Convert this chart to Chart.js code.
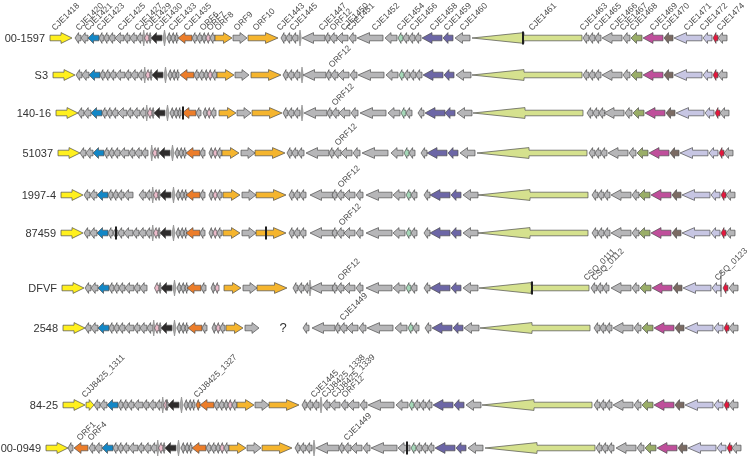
<!DOCTYPE html>
<html><head><meta charset="utf-8">
<script src="https://cdn.jsdelivr.net/npm/chart.js@4.4.1/dist/chart.umd.min.js"></script>
<style>html,body{margin:0;padding:0;background:#fff}#wrap{width:752px;height:461px}</style>
</head><body><div id="wrap"><canvas id="c" width="752" height="461"></canvas></div>
<script>
// ---- strains (tracks) ----
const strains = ['00-1597','S3','140-16','51037','1997-4','87459','DFVF','2548','84-25','00-0949'];
const trackPos = [38,75,113,153,195,233,288,328,405,448];

// ---- reference gene order (00-1597): [start, end, strand, family] ; strand 0 = tiny ORF ----
const genes = [
[50,72,1,'yellow'],[75,81,-1,'grey'],[81,88,-1,'grey'],[88,99,-1,'blue'],
[99,104,-1,'grey'],[104,109,-1,'grey'],[109,115,-1,'grey'],[115,124,-1,'grey'],
[124,130,-1,'grey'],[130,137,-1,'grey'],[137,143,-1,'grey'],[143,144.5,0,'grey'],
[144.5,149,-1,'pink'],[149,151,-1,'grey'],[151,162,-1,'black'],[163,166,0,'grey'],
[167,171,-1,'grey'],[171,175,-1,'grey'],[175,178,-1,'grey'],[178,192,-1,'orange'],
[192,197,-1,'grey'],[197,202,-1,'grey'],[202,206,-1,'grey'],[206,210,-1,'pink'],
[210,215,-1,'grey'],[215,232,1,'gold'],[233,247,1,'grey'],[248,278,1,'gold'],
[281,286,-1,'grey'],[286,292,-1,'grey'],[292,298,-1,'grey'],[299,301,0,'grey'],
[302,325,-1,'grey'],[325,330,-1,'grey'],[330,337,-1,'grey'],[337,348,-1,'grey'],
[349,356,-1,'grey'],[357,383,-1,'grey'],[385,397,-1,'grey'],[398,403,-1,'teal'],
[403,409,-1,'grey'],[409,415,-1,'grey'],[415,421,-1,'grey'],[422,442,-1,'purple'],
[443,453,-1,'purple'],[455,470,-1,'grey'],[472,582,-1,'green'],[583,589,-1,'grey'],
[589,595,-1,'grey'],[595,601,-1,'grey'],[602,622,-1,'grey'],[623,630,-1,'grey'],
[631,642,-1,'olive'],[643,663,-1,'magenta'],[664,673,-1,'brown'],[674,702,-1,'lavender'],
[703,712,-1,'lavender'],[713,718,-1,'red'],[718,727,-1,'grey']
];

// ---- per-strain offsets: [from gene index, offset] ----
const rowShifts = [
 [[0,0]],
 [[0,3],[1,1],[19,2],[27,3],[28,2],[32,1],[46,0]],
 [[0,6],[1,3],[19,4],[22,1],[25,4],[28,2],[37,3],[43,3],[44,2],[46,1],[47,4],[50,2]],
 [[0,8],[1,5],[11,8],[21,7],[25,7],[26,8],[27,7],[28,6],[32,4],[37,5],[38,6],[43,5],[47,6]],
 [[0,11],[1,9],[19,8],[21,7],[25,8],[26,9],[27,8],[33,7],[37,9],[38,8],[42,9],[43,8],[46,6],[47,9],[52,8]],
 [[0,11],[1,9],[19,8],[21,7],[25,8],[26,9],[27,8],[33,7],[37,9],[38,8],[42,9],[43,8],[46,6],[47,9],[52,8]],
 [[0,12],[1,10],[19,9],[26,10],[27,9],[28,12],[31,10],[32,8],[33,7],[37,9],[38,8],[42,9],[43,8],[46,7],[47,8],[50,9],[57,10],[58,11]],
 [[0,13],[1,10],[25,11],[26,12],[30,11],[32,10],[45,9],[46,8],[47,11]],
 [[0,13],[1,19],[13,17],[19,22],[27,21],[34,11],[46,10],[47,11]],
 [[0,-4],[1,14],[38,13],[47,13],[50,14]]
];
// ---- genes absent per strain ----
const rowDeleted = [[],[],[21,41],[21,31,41],[8,21,31,41],[21,31,41],[10,11,21,24,41],[21,27,28,29,31,41],[32,33],[]];
// ---- additional genes per strain ----
const rowExtra = [[],[],[],[],[],[],[],[],
 [[86,94,1,'yellow'],[196,200,-1,'orange'],[323,330,-1,'grey'],[330,340,-1,'grey']],
 [[68,73,-1,'grey'],[74,88,-1,'orange']]
];
// ---- marks (insertions / frameshifts) ----
const rowMarks = [[[523,'bar']],[],[[183,'bar']],[],[],[[116,'bar'],[266,'bar']],[[532,'bar'],[721,'line']],[[283,'?']],[],[[407,'bar']]];

// ---- gene names ----
const rowLabels = [
 [['CJE1418',55],['CJE1420',79],['CJE1421',88],['CJE1423',100],['CJE1425',121],['CJE1427',138],['CJE1429',147],['CJE1430',158],['CJE1433',172],['CJE1435',187],['ORF6',203],['ORF7',210],['ORF8',218],['ORF9',237],['ORF10',256],['CJE1443',280],['CJE1445',293],['CJE1447',322],['ORF12',333],['CJE1450',344],['CJE1451',350],['CJE1452',375],['CJE1454',400],['CJE1456',413],['CJE1458',433],['CJE1459',447],['CJE1460',463],['CJE1461',532],['CJE1463',583],['CJE1465',597],['CJE1466',613],['CJE1467',623],['CJE1468',633],['CJE1469',653],['CJE1470',665],['CJE1471',687],['CJE1472',703],['CJE1474',720]],
 [['ORF12',332]],
 [['ORF12',335]],
 [['ORF12',338]],
 [['ORF12',341]],
 [['ORF12',342]],
 [['ORF12',341],['CSQ_0111',587],['CSQ_0112',595],['CSQ_0123',718]],
 [['CJE1449',343]],
 [['CJJ8425_1311',85],['CJJ8425_1327',197],['CJE1445',314],['CJJ8425_1338',325],['CJJ8425_1339',335],['ORF12',345]],
 [['ORF1',80],['ORF4',91],['CJE1449',347]]
];

const palette = {
 yellow:'#fff01e', gold:'#f5b52e', orange:'#ec7d2a', blue:'#1387c6', black:'#2e2c2c',
 pink:'#ecbccb', grey:'#b6b6b8', teal:'#a6d8b9', purple:'#6c66a6', green:'#d5e18e',
 olive:'#9aae68', magenta:'#bf4f9b', brown:'#7b6b63', lavender:'#c7c6e3', red:'#e5173d'
};

function buildRow(r){
  const del = new Set(rowDeleted[r]);
  const out = [];
  genes.forEach((g,i)=>{
    if (del.has(i)) return;
    let off = 0;
    for (const [k,o] of rowShifts[r]) if (i >= k) off = o;
    out.push([g[0]+off, g[1]+off, g[2], g[3]]);
  });
  rowExtra[r].forEach(g=>out.push(g));
  return out;
}

const geneMap = {
  id:'geneMap',
  afterDraw(chart){
    const ctx = chart.ctx, xs = chart.scales.x, ys = chart.scales.y;
    ctx.save();
    strains.forEach((name, r)=>{
      const y = ys.getPixelForValue(trackPos[r]);
      const list = buildRow(r);
      let minStart = Infinity;
      list.forEach(g=>{
        const xa = xs.getPixelForValue(g[0]), xb = xs.getPixelForValue(g[1]);
        minStart = Math.min(minStart, xa);
        ctx.fillStyle = palette[g[3]];
        ctx.strokeStyle = '#4f4f4f';
        ctx.lineWidth = 0.7;
        ctx.beginPath();
        if (g[2] === 0){
          const xc = (xa+xb)/2, w = Math.max(1.2,(xb-xa)/2);
          ctx.moveTo(xc, y-8); ctx.lineTo(xc+w, y); ctx.lineTo(xc, y+8); ctx.lineTo(xc-w, y);
          ctx.closePath(); ctx.fillStyle='#a9a9a9'; ctx.fill(); ctx.strokeStyle='#8a8a8a'; ctx.stroke();
          return;
        }
        const L = xb-xa, hb = 2.8, hh = 5.4;
        const hl = g[3]==='green' ? 52 : (L < 9 ? L*0.6 : Math.min(12.5, L*0.5));
        if (g[2] > 0){
          ctx.moveTo(xa,y-hb); ctx.lineTo(xb-hl,y-hb); ctx.lineTo(xb-hl,y-hh); ctx.lineTo(xb,y);
          ctx.lineTo(xb-hl,y+hh); ctx.lineTo(xb-hl,y+hb); ctx.lineTo(xa,y+hb);
        } else {
          ctx.moveTo(xb,y-hb); ctx.lineTo(xa+hl,y-hb); ctx.lineTo(xa+hl,y-hh); ctx.lineTo(xa,y);
          ctx.lineTo(xa+hl,y+hh); ctx.lineTo(xa+hl,y+hb); ctx.lineTo(xb,y+hb);
        }
        ctx.closePath(); ctx.fill(); ctx.stroke();
      });
      // marks
      rowMarks[r].forEach(([p,t])=>{
        const x = xs.getPixelForValue(p);
        if (t==='bar'){ ctx.fillStyle='#1e1e1e'; ctx.fillRect(x-1, y-6.5, 2, 13); }
        else if (t==='line'){ ctx.strokeStyle='#444'; ctx.lineWidth=0.8; ctx.beginPath(); ctx.moveTo(x,y-17); ctx.lineTo(x,y+9); ctx.stroke(); }
        else { ctx.fillStyle='#333'; ctx.font='13px "Liberation Sans", Arial, sans-serif'; ctx.textAlign='center'; ctx.textBaseline='middle'; ctx.fillText(t, x, y); }
      });
      // strain name
      ctx.fillStyle = '#333';
      ctx.font = '11px "Liberation Sans", Arial, sans-serif';
      ctx.textAlign = 'right'; ctx.textBaseline = 'middle';
      ctx.fillText(name, minStart-5, y+0.5);
      // gene names
      ctx.font = '8.5px "Liberation Sans", Arial, sans-serif';
      ctx.fillStyle = '#4a4a4a';
      ctx.textAlign = 'left'; ctx.textBaseline = 'alphabetic';
      rowLabels[r].forEach(([t,p])=>{
        ctx.save();
        ctx.translate(xs.getPixelForValue(p), y-7);
        ctx.rotate(-Math.PI/4);
        ctx.fillText(t, 0, 0);
        ctx.restore();
      });
    });
    ctx.restore();
  }
};

new Chart(document.getElementById('c'), {
  type:'scatter',
  data:{ datasets:[{ data:[], pointRadius:0 }] },
  options:{
    responsive:false, animation:false, devicePixelRatio:1,
    layout:{ padding:0 },
    plugins:{ legend:{display:false}, tooltip:{enabled:false} },
    scales:{
      x:{ type:'linear', min:0, max:752, display:false },
      y:{ type:'linear', min:0, max:461, reverse:true, display:false }
    }
  },
  plugins:[geneMap]
});
</script></body></html>
